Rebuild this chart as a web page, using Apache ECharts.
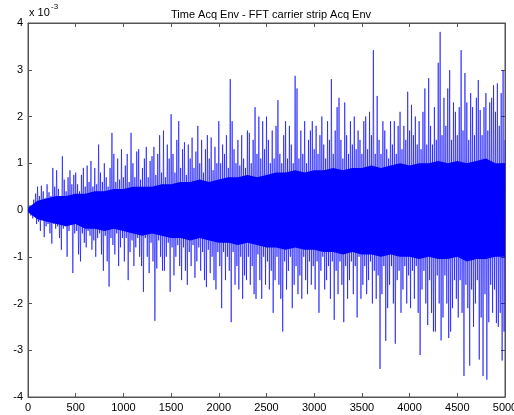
<!DOCTYPE html>
<html>
<head>
<meta charset="utf-8">
<script src="https://cdn.jsdelivr.net/npm/echarts@6/dist/echarts.min.js"></script>
<style>
  html, body { margin: 0; padding: 0; background: #fff; }
  #chart { width: 514px; height: 415px; }
</style>
</head>
<body>
<div id="chart"></div>
<script>
// one stored value every 10 samples (units of 1e-3)
const sampleStep = 10;
const signal = [
  0, -0.05, 0.1, -0.12, 0.08, -0.18, 0.22, -0.15, 0.35, -0.3,
  0.5, -0.25, 0.3, -0.45, 0.52, -0.2, 0.4, -0.58, 0.25, -0.35,
  0.55, -0.3, 0.38, -0.5, 0.3, -0.72, 0.9, -0.3, 0.5, -0.4,
  0.85, -0.35, 0.45, -0.6, 0.3, -0.85, 1.15, -0.4, 0.65, -0.35,
  0.4, -1.0, 0.7, -0.45, 0.85, -0.3, 0.55, -1.35, 0.75, -0.5,
  0.8, -0.45, 0.55, -0.95, 0.4, -1.1, 0.75, -0.5, 0.9, -0.7,
  0.5, -0.8, 0.95, -0.45, 0.6, -0.55, 1.05, -0.85, 0.5, -0.65,
  0.9, -1.0, 0.55, -0.6, 1.4, -0.5, 0.8, -0.95, 0.6, -1.3,
  1.0, -0.55, 0.7, -1.1, 0.5, -1.64, 0.9, -0.6, 1.65, -0.75,
  1.2, -0.95, 0.6, -0.5, 1.1, -1.2, 0.65, -0.8, 1.3, -0.6,
  0.7, -1.1, 0.95, -0.6, 1.2, -1.5, 0.6, -0.9, 1.65, -0.65,
  1.0, -1.2, 0.7, -0.8, 1.25, -0.6, 1.3, -1.0, 0.65, -1.2,
  0.9, -1.75, 1.1, -0.6, 1.35, -1.0, 0.7, -1.35, 1.05, -0.7,
  1.15, -1.1, 1.35, -2.37, 0.75, -1.25, 1.2, -0.65, 1.6, -1.0,
  0.8, -1.3, 1.7, -1.3, 0.7, -1.0, 1.4, -0.7, 1.1, -1.75,
  2.05, -0.8, 1.2, -1.4, 0.8, -1.0, 1.5, -0.75, 1.9, -1.2,
  0.9, -1.5, 1.3, -0.8, 1.45, -1.3, 0.75, -1.6, 1.4, -0.9,
  1.1, -1.2, 1.55, -0.75, 0.9, -1.45, 1.25, -1.1, 1.8, -0.8,
  1.0, -1.3, 1.5, -0.9, 0.8, -1.5, 1.3, -1.65, 1.6, -0.85,
  1.1, -1.35, 1.55, -1.0, 0.85, -1.5, 1.35, -1.7, 1.0, -0.9,
  1.9, -1.2, 1.0, -2.1, 1.4, -0.9, 1.2, -1.5, 1.6, -1.0,
  0.9, -1.3, 2.8, -2.4, 1.9, -0.9, 1.3, -1.6, 1.0, -1.2,
  1.5, -1.7, 0.95, -1.0, 1.6, -1.9, 1.1, -1.4, 0.9, -1.5,
  1.7, -1.0, 1.65, -1.6, 1.0, -1.2, 1.5, -1.8, 2.2, -1.9,
  1.2, -0.95, 2.0, -1.5, 1.1, -1.9, 1.9, -1.0, 1.3, -1.6,
  2.0, -1.1, 1.5, -1.7, 1.0, -1.3, 1.7, -2.2, 1.1, -1.5,
  1.8, -1.0, 2.35, -1.6, 1.2, -1.9, 1.0, -2.6, 1.6, -1.1,
  1.9, -1.7, 1.1, -1.3, 1.8, -1.0, 1.4, -2.1, 1.0, -1.6,
  2.87, -1.2, 2.6, -1.8, 1.1, -1.4, 1.7, -1.9, 1.2, -1.0,
  1.9, -1.5, 1.0, -1.8, 1.5, -1.1, 1.7, -1.6, 1.9, -1.2,
  1.3, -1.7, 1.8, -1.1, 1.2, -2.2, 1.6, -1.3, 2.0, -1.0,
  1.4, -1.7, 1.1, -1.5, 1.9, -1.2, 1.5, -1.9, 2.8, -1.1,
  1.2, -2.35, 1.7, -1.3, 2.2, -1.8, 2.4, -1.1, 1.5, -1.6,
  1.1, -2.4, 2.3, -1.2, 1.6, -1.9, 1.2, -1.5, 1.9, -1.1,
  1.4, -1.8, 2.0, -1.2, 1.3, -2.3, 1.7, -1.0, 1.5, -1.9,
  1.2, -1.6, 1.9, -1.2, 2.0, -1.8, 1.3, -1.5, 2.1, -1.1,
  1.6, -2.0, 3.42, -1.3, 1.2, -1.9, 2.44, -1.4, 1.5, -3.4,
  1.2, -1.8, 1.9, -1.2, 1.7, -2.8, 1.3, -2.1, 1.1, -1.6,
  1.9, -1.2, 1.4, -2.0, 1.9, -2.86, 1.2, -1.5, 1.8, -1.3,
  2.1, -2.2, 1.3, -1.7, 1.8, -1.2, 1.5, -2.0, 2.53, -1.4,
  1.7, -2.1, 2.25, -1.3, 1.6, -1.9, 2.0, -1.2, 1.4, -2.2,
  1.9, -3.1, 1.3, -1.7, 2.1, -1.3, 2.6, -2.0, 1.4, -2.46,
  2.82, -1.5, 1.8, -2.2, 1.4, -2.6, 2.2, -2.6, 1.5, -1.4,
  3.15, -2.0, 3.81, -2.79, 1.6, -2.3, 2.4, -1.4, 1.8, -2.0,
  2.6, -2.74, 2.99, -2.6, 1.5, -2.1, 2.3, -1.5, 2.1, -1.9,
  1.6, -2.3, 2.2, -1.5, 3.42, -2.2, 1.7, -3.55, 2.93, -1.6,
  2.3, -2.1, 1.5, -3.33, 2.5, -1.7, 2.2, -2.5, 1.6, -2.0,
  2.4, -1.5, 2.78, -3.2, 2.14, -2.3, 1.6, -3.55, 2.2, -1.8,
  2.5, -3.63, 1.7, -2.4, 2.3, -1.6, 2.4, -2.2, 2.67, -1.7,
  2.1, -2.42, 2.71, -2.5, 1.8, -2.2, 2.5, -3.22, 2.99, -2.6,
  1.5
];

// the solid dark core of the trace, one edge value every 100 samples
const coreStep = 100;
const coreUpper = [
  0.05, 0.2, 0.25, 0.3, 0.3, 0.35, 0.35, 0.4, 0.4, 0.45,
  0.45, 0.5, 0.5, 0.5, 0.55, 0.55, 0.6, 0.6, 0.65, 0.6,
  0.65, 0.7, 0.7, 0.75, 0.7, 0.75, 0.8, 0.8, 0.85, 0.8,
  0.85, 0.85, 0.9, 0.85, 0.9, 0.9, 0.95, 0.9, 0.95, 1.0,
  0.95, 1.0, 1.0, 1.05, 1.0, 1.05, 1.0, 1.05, 1.1, 1.0,
  1.0
];
const coreLower = [
  -0.05, -0.2, -0.25, -0.3, -0.35, -0.3, -0.4, -0.4, -0.45, -0.4,
  -0.45, -0.5, -0.55, -0.5, -0.55, -0.6, -0.6, -0.65, -0.6, -0.65,
  -0.7, -0.7, -0.75, -0.7, -0.75, -0.8, -0.8, -0.85, -0.8, -0.85,
  -0.85, -0.9, -0.9, -0.95, -0.9, -0.95, -0.95, -1.0, -0.95, -1.0,
  -1.0, -1.05, -1.0, -1.05, -1.05, -1.0, -1.1, -1.05, -1.05, -1.0,
  -1.0
];

const xTicks = [0, 500, 1000, 1500, 2000, 2500, 3000, 3500, 4000, 4500, 5000];
const yTicks = [-4, -3, -2, -1, 0, 1, 2, 3, 4];

const chart = echarts.init(document.getElementById('chart'), null, { renderer: 'canvas' });

const font = 'Liberation Sans, Arial, sans-serif';
const axisGrey = '#555';
const blue = '#0000ff';

const xAxisBase = {
  type: 'value',
  min: xTicks[0],
  max: xTicks[xTicks.length - 1],
  interval: xTicks[1] - xTicks[0],
  axisLine: { onZero: false, lineStyle: { color: axisGrey } },
  axisTick: { inside: true, length: 4, lineStyle: { color: axisGrey } },
  splitLine: { show: false }
};
const yAxisBase = {
  type: 'value',
  min: yTicks[0],
  max: yTicks[yTicks.length - 1],
  interval: yTicks[1] - yTicks[0],
  axisLine: { show: true, onZero: false, lineStyle: { color: axisGrey } },
  axisTick: { show: true, inside: true, length: 4, lineStyle: { color: axisGrey } },
  splitLine: { show: false }
};
const labelStyle = { color: '#000', fontFamily: font, fontSize: 11, margin: 5, formatter: v => String(v) };

const option = {
  animation: false,
  backgroundColor: '#fff',
  title: {
    text: 'Time Acq Env - FFT carrier strip Acq Env',
    left: 266,
    textAlign: 'center',
    top: 4,
    textStyle: { fontFamily: font, fontSize: 11, fontWeight: 'normal', color: '#000' }
  },
  graphic: [
    { type: 'text', left: 29, top: 7, style: { text: 'x 10', font: '11px ' + font, fill: '#000' } },
    { type: 'text', left: 51, top: 3, style: { text: '-3', font: '8px ' + font, fill: '#000' } }
  ],
  grid: { left: 28, top: 23, width: 477, height: 374, outerBoundsMode: 'none', show: true, borderColor: axisGrey, borderWidth: 1 },
  xAxis: [
    Object.assign({}, xAxisBase, { axisLabel: labelStyle }),
    Object.assign({}, xAxisBase, { position: 'top', axisLabel: { show: false } })
  ],
  yAxis: [
    Object.assign({}, yAxisBase, { axisLabel: labelStyle }),
    Object.assign({}, yAxisBase, { position: 'right', axisLabel: { show: false } })
  ],
  series: [
    {
      type: 'line',
      data: coreUpper.map((v, i) => [i * coreStep, v]),
      symbol: 'none',
      lineStyle: { width: 0 },
      areaStyle: { color: blue, opacity: 1 },
      silent: true
    },
    {
      type: 'line',
      data: coreLower.map((v, i) => [i * coreStep, v]),
      symbol: 'none',
      lineStyle: { width: 0 },
      areaStyle: { color: blue, opacity: 1 },
      silent: true
    },
    {
      type: 'line',
      data: signal.map((v, i) => [i * sampleStep, v]),
      showSymbol: false,
      symbol: 'none',
      sampling: false,
      lineStyle: { color: blue, width: 0.6 },
      silent: true
    }
  ]
};

chart.setOption(option);
</script>
</body>
</html>
